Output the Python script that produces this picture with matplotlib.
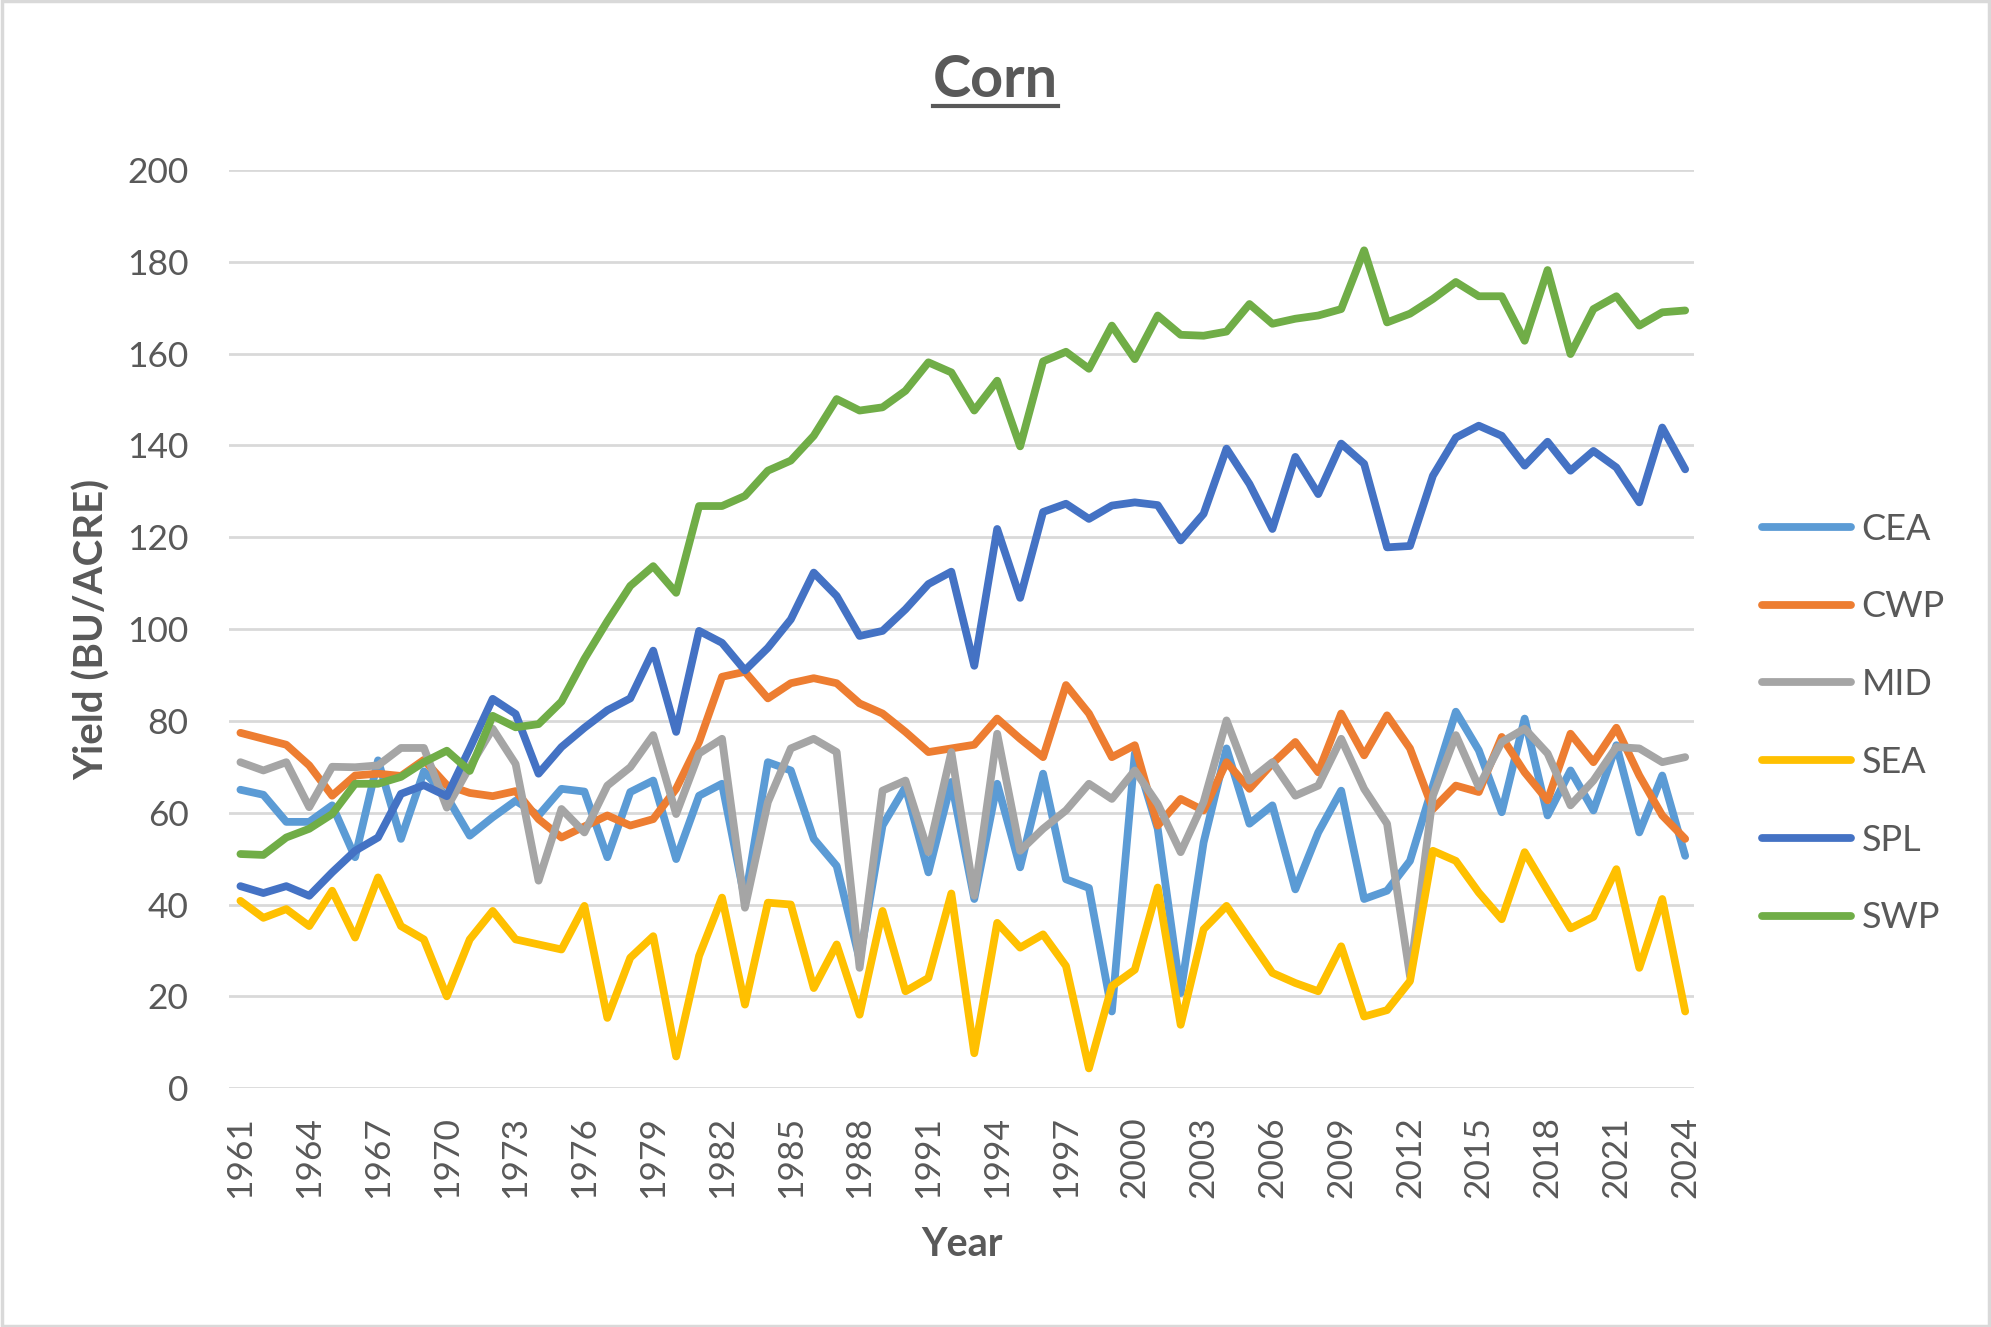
import numpy as np
import matplotlib
matplotlib.use("Agg")
import matplotlib.pyplot as plt
from matplotlib.lines import Line2D
from matplotlib.patches import Rectangle

plt.rcParams['font.family'] = ['Lato', 'DejaVu Sans']

# Data (bu/acre)
years = np.arange(1961, 2025)

cea = [65.0, 63.9, 58.0, 58.0, 61.6, 50.3, 71.4, 54.3, 69.0, 63.5,
       55.0, 59.0, 62.6, 59.4, 65.2, 64.6, 50.3, 64.5, 67.0, 49.9,
       63.7, 66.3, 41.0, 71.0, 69.2, 54.3, 48.4, 28.0, 57.2, 65.6,
       47.0, 66.7, 41.2, 66.3, 48.1, 68.5, 45.5, 43.6, 16.7, 72.9,
       56.5, 20.7, 53.5, 74.0, 57.6, 61.6, 43.3, 55.7, 64.8, 41.2,
       43.0, 49.5, 65.9, 82.0, 73.6, 60.1, 80.5, 59.4, 69.2, 60.5,
       74.7, 55.7, 68.1, 50.6]
cwp = [77.4, 76.1, 74.8, 70.3, 63.7, 68.1, 68.5, 68.0, 71.5, 66.0,
       64.3, 63.6, 64.7, 58.6, 54.6, 57.0, 59.4, 57.2, 58.6, 65.2,
       75.4, 89.6, 90.7, 84.9, 88.2, 89.3, 88.2, 83.8, 81.6, 77.6,
       73.2, 74.0, 74.8, 80.5, 76.1, 72.1, 87.8, 81.6, 72.1, 74.7,
       57.2, 63.0, 60.5, 71.0, 65.2, 70.7, 75.4, 68.8, 81.6, 72.5,
       81.2, 74.0, 60.8, 65.9, 64.5, 76.5, 68.8, 62.7, 77.2, 71.0,
       78.5, 68.1, 59.4, 54.3]
mid = [71.0, 69.2, 71.0, 61.2, 70.0, 69.9, 70.3, 74.1, 74.1, 61.1,
       70.0, 78.3, 70.6, 45.2, 60.8, 55.7, 65.9, 69.9, 76.9, 59.7,
       72.9, 76.1, 39.3, 62.3, 74.0, 76.1, 73.2, 26.2, 64.8, 67.0,
       51.4, 73.2, 41.9, 77.2, 51.7, 56.5, 60.5, 66.3, 63.0, 69.2,
       61.9, 51.4, 62.3, 80.1, 67.0, 71.0, 63.7, 65.9, 76.1, 65.2,
       57.6, 24.4, 63.7, 76.9, 65.6, 75.4, 78.3, 72.9, 61.6, 67.0,
       74.3, 74.0, 71.0, 72.1]
sea = [40.8, 37.1, 39.0, 35.3, 43.0, 32.8, 45.9, 35.3, 32.4, 20.0,
       32.4, 38.6, 32.4, 31.3, 30.2, 39.7, 15.3, 28.4, 33.1, 6.9,
       28.8, 41.5, 18.2, 40.4, 40.0, 21.8, 31.3, 16.0, 38.6, 21.1,
       24.0, 42.4, 7.6, 36.0, 30.6, 33.5, 26.6, 4.3, 22.2, 25.8,
       43.7, 13.8, 34.6, 39.7, 32.4, 25.1, 22.9, 21.1, 30.9, 15.6,
       17.0, 23.3, 51.7, 49.5, 42.6, 36.8, 51.4, 43.0, 34.8, 37.3,
       47.7, 26.2, 41.2, 16.7]
spl = [44.0, 42.5, 44.0, 41.9, 47.0, 51.7, 54.6, 64.1, 66.0, 63.6,
       74.0, 84.8, 81.5, 68.5, 74.3, 78.5, 82.3, 84.9, 95.3, 77.6,
       99.6, 97.0, 91.0, 95.9, 102.1, 112.3, 107.2, 98.5, 99.6, 104.3,
       109.8, 112.5, 92.0, 121.8, 106.8, 125.5, 127.3, 124.0, 126.9, 127.6,
       127.0, 119.3, 125.1, 139.3, 131.6, 121.8, 137.5, 129.4, 140.4, 136.0,
       117.8, 118.1, 133.4, 141.7, 144.3, 142.1, 135.6, 140.8, 134.5, 138.8,
       135.2, 127.6, 143.9, 134.8]
swp = [51.0, 50.8, 54.6, 56.5, 59.7, 66.3, 66.3, 67.8, 71.0, 73.5,
       69.1, 81.1, 78.6, 79.3, 84.2, 93.5, 101.7, 109.4, 113.7, 107.9,
       126.8, 126.8, 129.0, 134.5, 136.7, 142.1, 150.1, 147.6, 148.3, 151.9,
       158.1, 155.9, 147.6, 154.1, 139.8, 158.3, 160.4, 156.7, 166.1, 158.8,
       168.3, 164.1, 163.9, 164.8, 170.8, 166.5, 167.6, 168.3, 169.7, 182.5,
       166.8, 168.7, 171.9, 175.6, 172.5, 172.5, 162.8, 178.2, 159.9, 169.7,
       172.5, 166.1, 169.0, 169.4]

names = ['CEA', 'CWP', 'MID', 'SEA', 'SPL', 'SWP']
series = [cea, cwp, mid, sea, spl, swp]
colors = ['#5B9BD5', '#ED7D31', '#A5A5A5', '#FFC000', '#4472C4', '#70AD47']

text_color = '#595959'
grid_color = '#D9D9D9'

fig = plt.figure(figsize=(19.91, 13.27), dpi=100)
ax = fig.add_axes([0.115, 0.180, 0.736, 0.6919])

for name, vals, c in zip(names, series, colors):
    ax.plot(years, vals, color=c, lw=5.6, label=name,
            solid_capstyle='round', solid_joinstyle='round')

ax.set_xlim(1960.5, 2024.4)
ax.set_ylim(0, 200)
ax.set_yticks(np.arange(0, 201, 20))
ax.set_xticks(years[::3])
ax.tick_params(axis='x', labelrotation=90, length=0, pad=20,
               labelsize=25.5, labelcolor=text_color)
ax.tick_params(axis='y', length=0, pad=29, labelsize=25.5, labelcolor=text_color)
ax.grid(axis='y', color=grid_color, lw=2)
ax.set_axisbelow(True)
for s in ax.spines.values():
    s.set_visible(False)

ax.set_xlabel('Year', fontsize=28.5, fontweight='bold', color=text_color, labelpad=20)
ax.set_ylabel('Yield (BU/ACRE)', fontsize=29, fontweight='bold', color=text_color, labelpad=12)

leg = ax.legend(loc='center left', bbox_to_anchor=(1762 / 1991, 0.4548),
                bbox_transform=fig.transFigure, frameon=False, fontsize=26,
                handlelength=2.46, handletextpad=0.3, labelspacing=1.24,
                borderpad=0, borderaxespad=0)
for t in leg.get_texts():
    t.set_color(text_color)

# title with underline
title = fig.text(0.5, 1 - 97 / 1327, 'Corn', ha='center', va='baseline',
                 fontsize=41.5, fontweight='bold', color=text_color)
fig.canvas.draw()
bb = title.get_window_extent(fig.canvas.get_renderer())
W, H = fig.bbox.width, fig.bbox.height
uy = 1 - 106 / 1327
fig.add_artist(Line2D([bb.x0 / W, bb.x1 / W], [uy, uy], transform=fig.transFigure,
                      color=text_color, lw=3))

# chart area border
fig.add_artist(Rectangle((0.001, 0.001), 0.998, 0.998, transform=fig.transFigure,
                         fill=False, edgecolor=grid_color, lw=2.5))

fig.savefig('out.png', dpi=100)
